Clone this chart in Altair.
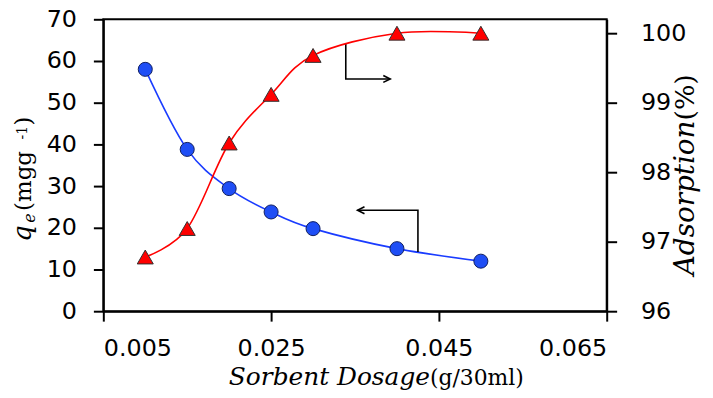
import altair as alt
import pandas as pd

# ---- data ----
dosage = [0.01, 0.015, 0.02, 0.025, 0.03, 0.04, 0.05]
qe = [58.0, 38.8, 29.4, 23.8, 19.8, 15.0, 12.0]
adsorption = [96.78, 97.19, 98.42, 99.12, 99.68, 100.0, 100.0]

x_ticks = [0.005, 0.025, 0.045, 0.065]
qe_ticks = [0, 10, 20, 30, 40, 50, 60, 70]
ads_ticks = [96, 97, 98, 99, 100]

# annotation arrows (data units: dosage, qe)
arrow_q_x = [0.0425, 0.0425, 0.0353]
arrow_q_y = [14.2, 24.2, 24.2]
arrow_a_x = [0.0339, 0.0339, 0.0392]
arrow_a_y = [64.2, 55.7, 55.7]

df = pd.DataFrame({"dosage": dosage, "qe": qe, "ads": adsorption})

arrows = pd.DataFrame({
    "ax": arrow_q_x + arrow_a_x,
    "ay": arrow_q_y + arrow_a_y,
    "grp": ["q"] * len(arrow_q_x) + ["a"] * len(arrow_a_x),
    "ord": list(range(len(arrow_q_x))) + list(range(len(arrow_a_x))),
})
tip_left = pd.DataFrame({"ax": [arrow_q_x[-1]], "ay": [arrow_q_y[-1]]})
tip_right = pd.DataFrame({"ax": [arrow_a_x[-1]], "ay": [arrow_a_y[-1]]})

xscale = alt.Scale(domain=[0.005, 0.065], nice=False, zero=False)
xaxis = alt.Axis(values=x_ticks, format=".3f", labelPadding=16)
yq_scale = alt.Scale(domain=[0, 70], nice=False, zero=False)
ya_scale = alt.Scale(domain=[96, 100.2], nice=False, zero=False)

X = alt.X("dosage:Q", scale=xscale, axis=xaxis, title=None)

blue_line = alt.Chart(df).mark_line(
    interpolate="cardinal", color="#1a3cff", strokeWidth=1.6
).encode(
    x=X,
    y=alt.Y("qe:Q", scale=yq_scale,
            axis=alt.Axis(values=qe_ticks, orient="left", labelPadding=17),
            title=None),
)
blue_pts = alt.Chart(df).mark_point(
    shape="circle", filled=True, size=200, fill="#1f4ef5", stroke="#101e60",
    strokeWidth=1, opacity=1
).encode(x=alt.X("dosage:Q"), y=alt.Y("qe:Q"))

arrow_lines = alt.Chart(arrows).mark_line(color="black", strokeWidth=1.6).encode(
    x=alt.X("ax:Q"), y=alt.Y("ay:Q"), detail="grp:N", order="ord:Q"
)
head_left = alt.Chart(tip_left).mark_point(
    shape="M1,-0.5L0,0L1,0.5", size=196, filled=False, stroke="black",
    strokeWidth=1.6, opacity=1
).encode(x=alt.X("ax:Q"), y=alt.Y("ay:Q"))
head_right = alt.Chart(tip_right).mark_point(
    shape="M-1,-0.5L0,0L-1,0.5", size=196, filled=False, stroke="black",
    strokeWidth=1.6, opacity=1
).encode(x=alt.X("ax:Q"), y=alt.Y("ay:Q"))


def label(text, x, y, size, italic=False, angle=0, align="left"):
    kw = dict(font="DejaVu Serif", fontSize=size, color="black", align=align,
              baseline="alphabetic")
    if italic:
        kw["fontStyle"] = "italic"
    if angle:
        kw["angle"] = angle
    return alt.Chart(pd.DataFrame({"t": [text]})).mark_text(**kw).encode(
        text="t:N", x=alt.value(x), y=alt.value(y)
    )


titles = [
    # x axis title
    label("Sorbent Dosage", 329, 368, 25, italic=True, align="right"),
    label("(g/30ml)", 329, 368, 22),
    # left axis title
    label("q", -73, 224, 26, italic=True, angle=270),
    label("e", -69, 205, 16, italic=True, angle=270),
    label("(mgg", -73, 193, 23, angle=270),
    label("-1", -77, 121, 14, angle=270),
    label(")", -73, 107, 23, angle=270),
    # right axis title
    label("Adsorption", 595, 102, 28, italic=True, angle=270, align="right"),
    label("(%)", 595, 102, 27, angle=270),
]

left = alt.layer(blue_line, blue_pts, arrow_lines, head_left, head_right, *titles)

red_line = alt.Chart(df).mark_line(
    interpolate="cardinal", color="#ff0000", strokeWidth=1.6
).encode(
    x=X,
    y=alt.Y("ads:Q", scale=ya_scale,
            axis=alt.Axis(values=ads_ticks, orient="right", format="d",
                          labelPadding=24),
            title=None),
)
red_pts = alt.Chart(df).mark_point(
    shape="triangle-up", filled=True, size=260, fill="#ff0000", stroke="#303030",
    strokeWidth=1, opacity=1
).encode(x=alt.X("dosage:Q"), y=alt.Y("ads:Q"))

right = alt.layer(red_line, red_pts)

chart = alt.layer(left, right).resolve_scale(y="independent").properties(
    width=507, height=294,
    autosize=alt.AutoSizeParams(type="none"),
    padding={"left": 96, "top": 10, "right": 99, "bottom": 80},
    background="white",
).configure_view(
    stroke="black", strokeWidth=2
).configure_axis(
    grid=False, domainColor="black", domainWidth=2, tickColor="black",
    tickWidth=2, tickSize=10, labelFont="DejaVu Sans", labelFontSize=24,
    labelColor="black",
)

chart.save("out.html", embed_options={"renderer": "svg", "actions": False})
